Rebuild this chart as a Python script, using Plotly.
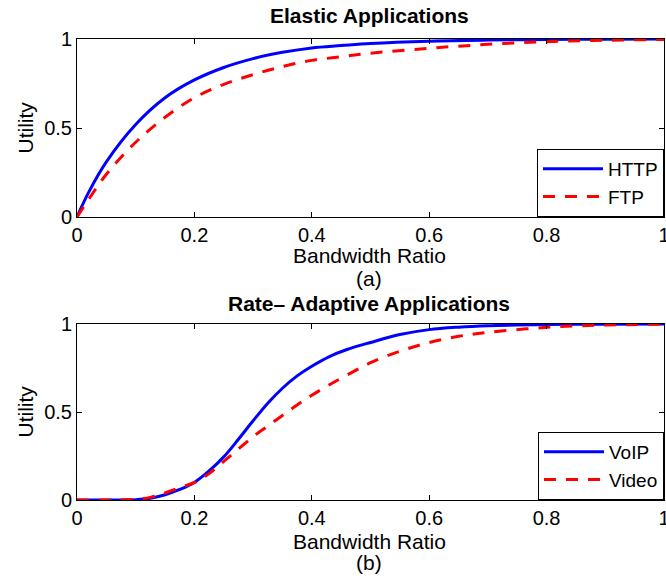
import plotly.graph_objects as go

# ---- data ----
elastic_x = [0, 0.02, 0.05, 0.1, 0.15, 0.2, 0.25, 0.3, 0.35, 0.4, 0.45, 0.5, 0.6, 0.7, 0.8, 0.9, 1.0]
http_u = [0, 0.14, 0.31, 0.52, 0.67, 0.77, 0.84, 0.89, 0.925, 0.95, 0.963, 0.975, 0.988, 0.994, 0.997, 0.999, 1.0]
ftp_u = [0, 0.10, 0.24, 0.42, 0.56, 0.67, 0.745, 0.80, 0.845, 0.88, 0.90, 0.92, 0.948, 0.97, 0.985, 0.993, 0.997]

rate_x = [0, 0.05, 0.1, 0.125, 0.15, 0.175, 0.2, 0.225, 0.25, 0.275, 0.3, 0.325, 0.35, 0.375, 0.4,
          0.43, 0.46, 0.5, 0.55, 0.6, 0.65, 0.7, 0.8, 0.9, 1.0]
voip_u = [0, 0, 0.002, 0.01, 0.03, 0.06, 0.10, 0.165, 0.245, 0.345, 0.45, 0.55, 0.635, 0.705, 0.76,
          0.815, 0.855, 0.895, 0.94, 0.968, 0.982, 0.99, 0.997, 0.999, 1.0]
video_u = [0, 0, 0.004, 0.015, 0.04, 0.07, 0.10, 0.15, 0.22, 0.29, 0.36, 0.42, 0.48, 0.54, 0.595,
           0.655, 0.71, 0.78, 0.845, 0.895, 0.93, 0.952, 0.981, 0.994, 0.999]

x_ticks = [0, 0.2, 0.4, 0.6, 0.8, 1]
x_tick_text = ["0", "0.2", "0.4", "0.6", "0.8", "1"]
y_ticks = [0, 0.5, 1]
y_tick_text = ["0", "0.5", "1"]

titles = ["Elastic Applications", "Rate\u2013 Adaptive Applications"]
x_title = "Bandwidth Ratio"
y_title = "Utility"
panel_tags = ["(a)", "(b)"]

FONT = "Liberation Sans, Arial, Helvetica, sans-serif"
BLUE = "#0000ff"
RED = "#ff0000"
DASH = "12px,10px"

W, H = 682, 578
ML, MR, MT, MB = 77, 12, 39, 78
PH = H - MT - MB  # 461
CENTER_X = 372  # visual centre of the text block in the reference (pixels)


def py(p):
    """pixel row -> paper y"""
    return (H - MB - p) / PH


def px(p):
    """pixel col -> paper x"""
    return (p - ML) / (W - ML - MR)


fig = go.Figure()
fig.add_trace(go.Scatter(x=elastic_x, y=http_u, name="HTTP", mode="lines", line_shape="spline",
                         line=dict(color=BLUE, width=3), xaxis="x", yaxis="y", legend="legend"))
fig.add_trace(go.Scatter(x=elastic_x, y=ftp_u, name="FTP", mode="lines", line_shape="spline",
                         line=dict(color=RED, width=3, dash=DASH), xaxis="x", yaxis="y", legend="legend"))
fig.add_trace(go.Scatter(x=rate_x, y=voip_u, name="VoIP", mode="lines", line_shape="spline",
                         line=dict(color=BLUE, width=3), xaxis="x2", yaxis="y2", legend="legend2"))
fig.add_trace(go.Scatter(x=rate_x, y=video_u, name="Video", mode="lines", line_shape="spline",
                         line=dict(color=RED, width=3, dash=DASH), xaxis="x2", yaxis="y2", legend="legend2"))

axis_common = dict(showline=True, linecolor="black", linewidth=1, mirror="ticks",
                   ticks="inside", ticklen=5, tickcolor="black", tickwidth=1,
                   showgrid=False, zeroline=False, fixedrange=True,
                   tickfont=dict(family=FONT, size=20, color="black"))

top_dom = [py(217), 1.0]
bot_dom = [0.0, py(324)]

legend_common = dict(x=1, xanchor="right", yanchor="bottom", xref="paper", yref="paper",
                     bgcolor="white", bordercolor="black", borderwidth=1,
                     font=dict(family=FONT, size=19, color="black"), itemwidth=60,
                     tracegroupgap=0)

fig.update_layout(
    width=W, height=H,
    margin=dict(l=ML, r=MR, t=MT, b=MB, pad=0),
    paper_bgcolor="white", plot_bgcolor="white",
    xaxis=dict(domain=[0, 1], range=[0, 1], anchor="y", tickvals=x_ticks, ticktext=x_tick_text, **axis_common),
    yaxis=dict(domain=top_dom, range=[0, 1], anchor="x", tickvals=y_ticks, ticktext=y_tick_text, **axis_common),
    xaxis2=dict(domain=[0, 1], range=[0, 1], anchor="y2", tickvals=x_ticks, ticktext=x_tick_text, **axis_common),
    yaxis2=dict(domain=bot_dom, range=[0, 1], anchor="x2", tickvals=y_ticks, ticktext=y_tick_text, **axis_common),
    legend=dict(y=top_dom[0], **legend_common),
    legend2=dict(y=0, **legend_common),
    showlegend=True,
)

ann = []
for i, (title_y, xt_y, tag_y, mid_y) in enumerate([(15, 256, 278, 128), (303, 541, 562, 412)]):
    ann.append(dict(text="<b>%s</b>" % titles[i], x=px(CENTER_X), y=py(title_y), xref="paper", yref="paper",
                    xanchor="center", yanchor="middle", showarrow=False,
                    font=dict(family=FONT, size=21, color="black")))
    ann.append(dict(text=x_title, x=px(CENTER_X), y=py(xt_y), xref="paper", yref="paper",
                    xanchor="center", yanchor="middle", showarrow=False,
                    font=dict(family=FONT, size=21, color="black")))
    ann.append(dict(text=panel_tags[i], x=px(CENTER_X), y=py(tag_y), xref="paper", yref="paper",
                    xanchor="center", yanchor="middle", showarrow=False,
                    font=dict(family=FONT, size=21, color="black")))
    ann.append(dict(text=y_title, x=px(24), y=py(mid_y), xref="paper", yref="paper",
                    xanchor="center", yanchor="middle", showarrow=False, textangle=-90,
                    font=dict(family=FONT, size=21, color="black")))
fig.update_layout(annotations=ann)

fig.write_html("out.html", config={"displayModeBar": False, "staticPlot": True},
               post_script="document.documentElement.style.overflow='hidden';document.body.style.overflow='hidden';")
